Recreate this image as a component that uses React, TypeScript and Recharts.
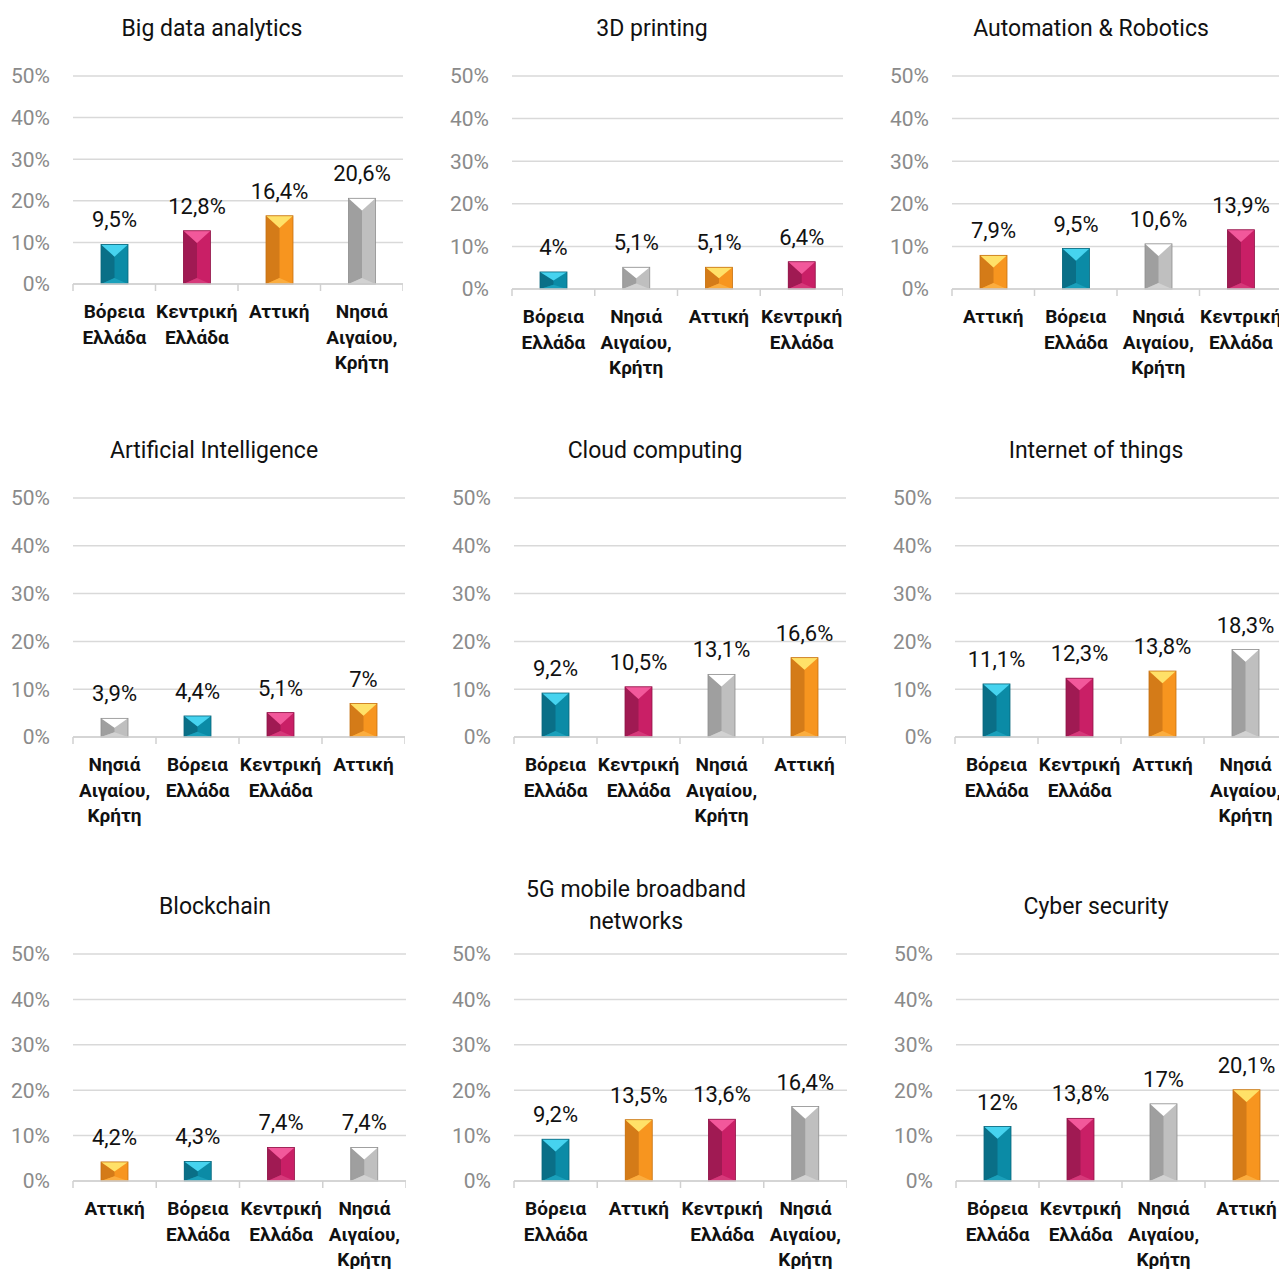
import React from 'react';
import { BarChart, Bar, XAxis, YAxis, CartesianGrid, LabelList } from 'recharts';

const FONT = 'Roboto, "DejaVu Sans", sans-serif';

const NORTH = 'Βόρεια Ελλάδα';
const CENTRAL = 'Κεντρική Ελλάδα';
const ATTICA = 'Αττική';
const ISLANDS = 'Νησιά Αιγαίου, Κρήτη';

const yTicks = [0, 10, 20, 30, 40, 50];

// category order and values per panel
const bigDataRegions = [NORTH, CENTRAL, ATTICA, ISLANDS];
const bigDataValues = [9.5, 12.8, 16.4, 20.6];
const printingRegions = [NORTH, ISLANDS, ATTICA, CENTRAL];
const printingValues = [4, 5.1, 5.1, 6.4];
const roboticsRegions = [ATTICA, NORTH, ISLANDS, CENTRAL];
const roboticsValues = [7.9, 9.5, 10.6, 13.9];
const aiRegions = [ISLANDS, NORTH, CENTRAL, ATTICA];
const aiValues = [3.9, 4.4, 5.1, 7];
const cloudRegions = [NORTH, CENTRAL, ISLANDS, ATTICA];
const cloudValues = [9.2, 10.5, 13.1, 16.6];
const iotRegions = [NORTH, CENTRAL, ATTICA, ISLANDS];
const iotValues = [11.1, 12.3, 13.8, 18.3];
const blockchainRegions = [ATTICA, NORTH, CENTRAL, ISLANDS];
const blockchainValues = [4.2, 4.3, 7.4, 7.4];
const fiveGRegions = [NORTH, ATTICA, CENTRAL, ISLANDS];
const fiveGValues = [9.2, 13.5, 13.6, 16.4];
const cyberRegions = [NORTH, CENTRAL, ISLANDS, ATTICA];
const cyberValues = [12, 13.8, 17, 20.1];

const regionLines: Record<string, string[]> = {
  [NORTH]: ['Βόρεια', 'Ελλάδα'],
  [CENTRAL]: ['Κεντρική', 'Ελλάδα'],
  [ATTICA]: ['Αττική'],
  [ISLANDS]: ['Νησιά', 'Αιγαίου,', 'Κρήτη'],
};

const palette: Record<string, { left: string; right: string; top: string; bottom: string; stroke: string }> = {
  [NORTH]: { left: '#0a6f87', right: '#0b8ba6', top: '#46d3ef', bottom: '#1aa0bb', stroke: '#08667c' },
  [CENTRAL]: { left: '#a01a53', right: '#c91f66', top: '#f2589b', bottom: '#d6397a', stroke: '#8f1448' },
  [ATTICA]: { left: '#d47b18', right: '#f7951f', top: '#ffe168', bottom: '#fbad3f', stroke: '#c67212' },
  [ISLANDS]: { left: '#9f9f9f', right: '#bfbfbf', top: '#ffffff', bottom: '#d2d2d2', stroke: '#8e8e8e' },
};

const fmt = (v: number) => `${String(v).replace('.', ',')}%`;

const BevelBar = (props: any) => {
  const { x, y, width: w, height: h, payload } = props;
  if (!h || h <= 0) return null;
  const c = palette[payload.region];
  const cx = x + w / 2;
  const t = Math.min(w * 0.45, h * 0.5);
  const b = Math.min(6, h * 0.25);
  return (
    <g>
      <rect x={x} y={y} width={w} height={h} fill={c.right} />
      <polygon points={`${x},${y} ${cx},${y + t} ${cx},${y + h - b} ${x},${y + h}`} fill={c.left} />
      <polygon points={`${x},${y + h} ${x + w},${y + h} ${cx},${y + h - b}`} fill={c.bottom} />
      <polygon points={`${x},${y} ${x + w},${y} ${cx},${y + t}`} fill={c.top} />
      <rect x={x} y={y} width={w} height={h} fill="none" stroke={c.stroke} strokeWidth={0.8} />
    </g>
  );
};

type Layout = {
  title: string[];
  titleX: number;
  titleY: number;
  left: number;
  right: number;
  y50: number;
  y0: number;
  regions: string[];
  values: number[];
};

const panels: Layout[] = [
  { title: ['Big data analytics'], titleX: 212, titleY: 29, left: 73, right: 403, y50: 76, y0: 284, regions: bigDataRegions, values: bigDataValues },
  { title: ['3D printing'], titleX: 652, titleY: 29, left: 512, right: 843, y50: 76, y0: 289, regions: printingRegions, values: printingValues },
  { title: ['Automation & Robotics'], titleX: 1091, titleY: 29, left: 952, right: 1282, y50: 76, y0: 289, regions: roboticsRegions, values: roboticsValues },
  { title: ['Artificial Intelligence'], titleX: 214, titleY: 451, left: 73, right: 405, y50: 498, y0: 737, regions: aiRegions, values: aiValues },
  { title: ['Cloud computing'], titleX: 655, titleY: 451, left: 514, right: 846, y50: 498, y0: 737, regions: cloudRegions, values: cloudValues },
  { title: ['Internet of things'], titleX: 1096, titleY: 451, left: 955, right: 1287, y50: 498, y0: 737, regions: iotRegions, values: iotValues },
  { title: ['Blockchain'], titleX: 215, titleY: 907, left: 73, right: 406, y50: 954, y0: 1181, regions: blockchainRegions, values: blockchainValues },
  { title: ['5G mobile broadband', 'networks'], titleX: 636, titleY: 906, left: 514, right: 847, y50: 954, y0: 1181, regions: fiveGRegions, values: fiveGValues },
  { title: ['Cyber security'], titleX: 1096, titleY: 907, left: 956, right: 1288, y50: 954, y0: 1181, regions: cyberRegions, values: cyberValues },
];

const Y_AXIS_W = 73;
const TOP = 30;
const X_AXIS_H = 100;

function Panel({ p }: { p: Layout }) {
  const data = p.regions.map((region, i) => ({ region, value: p.values[i] }));
  const plotW = p.right - p.left;
  const bw = plotW / p.regions.length;
  const width = plotW + Y_AXIS_W;
  const height = p.y0 - p.y50 + TOP + X_AXIS_H;

  const CategoryTick = (props: any) => {
    const { x, y, payload, index } = props;
    const lines = regionLines[payload.value] || [payload.value];
    return (
      <g>
        <line x1={x - bw / 2} x2={x - bw / 2} y1={y} y2={y + 7} stroke="#d0d0d0" strokeWidth={1.5} />
        {index === p.regions.length - 1 && (
          <line x1={x + bw / 2} x2={x + bw / 2} y1={y} y2={y + 7} stroke="#d0d0d0" strokeWidth={1.5} />
        )}
        <text x={x} y={y + 34} textAnchor="middle" fontFamily={FONT} fontWeight={700} fontSize={19} fill="#111">
          {lines.map((l, i) => (
            <tspan key={i} x={x} dy={i === 0 ? 0 : 25.5}>{l}</tspan>
          ))}
        </text>
      </g>
    );
  };

  const ValueLabel = (props: any) => {
    const { x, y, width: w, value } = props;
    return (
      <text x={x + w / 2} y={y - 17} textAnchor="middle" fontFamily={FONT} fontSize={22} fill="#111">
        {fmt(value)}
      </text>
    );
  };

  return (
    <>
      {p.title.map((t, i) => (
        <div
          key={i}
          style={{
            position: 'absolute',
            left: p.titleX - 200,
            width: 400,
            top: p.titleY - 16 + i * 32 - (p.title.length - 1) * 16,
            lineHeight: '32px',
            textAlign: 'center',
            fontFamily: FONT,
            fontSize: 23,
            color: '#111',
          }}
        >
          {t}
        </div>
      ))}
      <div style={{ position: 'absolute', left: p.left - Y_AXIS_W, top: p.y50 - TOP }}>
        <BarChart width={width} height={height} data={data} margin={{ top: TOP, right: 0, bottom: 0, left: 0 }}>
          <CartesianGrid vertical={false} stroke="#d9d9d9" strokeWidth={1.5} />
          <XAxis
            dataKey="region"
            height={X_AXIS_H}
            interval={0}
            tickLine={false}
            tickSize={0}
            tickMargin={0}
            axisLine={{ stroke: '#d0d0d0', strokeWidth: 1.5 }}
            tick={<CategoryTick />}
          />
          <YAxis
            width={Y_AXIS_W}
            domain={[0, 50]}
            ticks={yTicks}
            tickFormatter={(v) => `${v}%`}
            axisLine={false}
            tickLine={false}
            tickSize={0}
            tickMargin={23}
            tick={{ fill: '#8a8a8a', fontSize: 21, fontFamily: FONT }}
          />
          <Bar dataKey="value" barSize={27} shape={<BevelBar />} isAnimationActive={false}>
            <LabelList dataKey="value" content={<ValueLabel />} />
          </Bar>
        </BarChart>
      </div>
    </>
  );
}

export default function App() {
  return (
    <div style={{ position: 'absolute', left: 0, top: 0, width: 1279, height: 1269, overflow: 'hidden', background: '#fff' }}>
      {panels.map((p, i) => (
        <Panel key={i} p={p} />
      ))}
    </div>
  );
}
